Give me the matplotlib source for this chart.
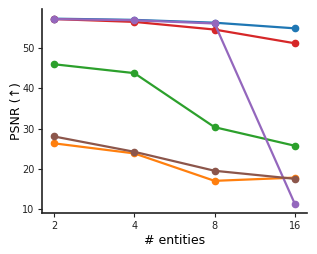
import matplotlib
matplotlib.use('Agg')
import matplotlib.pyplot as plt

entities = [2, 4, 8, 16]
psnr_blue = [57.3, 57.0, 56.3, 54.9]
psnr_orange = [26.4, 23.9, 17.1, 17.9]
psnr_green = [46.0, 43.8, 30.4, 25.8]
psnr_red = [57.2, 56.5, 54.6, 51.2]
psnr_purple = [57.2, 56.9, 56.1, 11.4]
psnr_brown = [28.1, 24.3, 19.6, 17.6]

series = [
    (psnr_blue, 'tab:blue'),
    (psnr_orange, 'tab:orange'),
    (psnr_green, 'tab:green'),
    (psnr_red, 'tab:red'),
    (psnr_purple, 'tab:purple'),
    (psnr_brown, 'tab:brown'),
]

fig = plt.figure(figsize=(3.17, 2.54), dpi=100)
ax = fig.add_axes([0.1325, 0.161, 0.8355, 0.802])

for vals, c in series:
    ax.plot(entities, vals, '-o', color=c, lw=1.6, ms=4.5)

ax.set_xscale('log', base=2)
ax.set_xticks(entities)
ax.set_xticklabels([str(e) for e in entities])
ax.minorticks_off()
ax.set_yticks([10, 20, 30, 40, 50])
ax.tick_params(labelsize=7, colors='#222222', length=3, pad=2.5)
ax.set_xlabel('# entities', fontsize=9, labelpad=2)
ax.set_ylabel('PSNR (↑)', fontsize=9, labelpad=-1)
ax.spines['top'].set_visible(False)
ax.spines['right'].set_visible(False)
for s in ('left', 'bottom'):
    ax.spines[s].set_linewidth(1.2)
    ax.spines[s].set_color('#222222')

fig.savefig('out.png', dpi=100, facecolor='white')
